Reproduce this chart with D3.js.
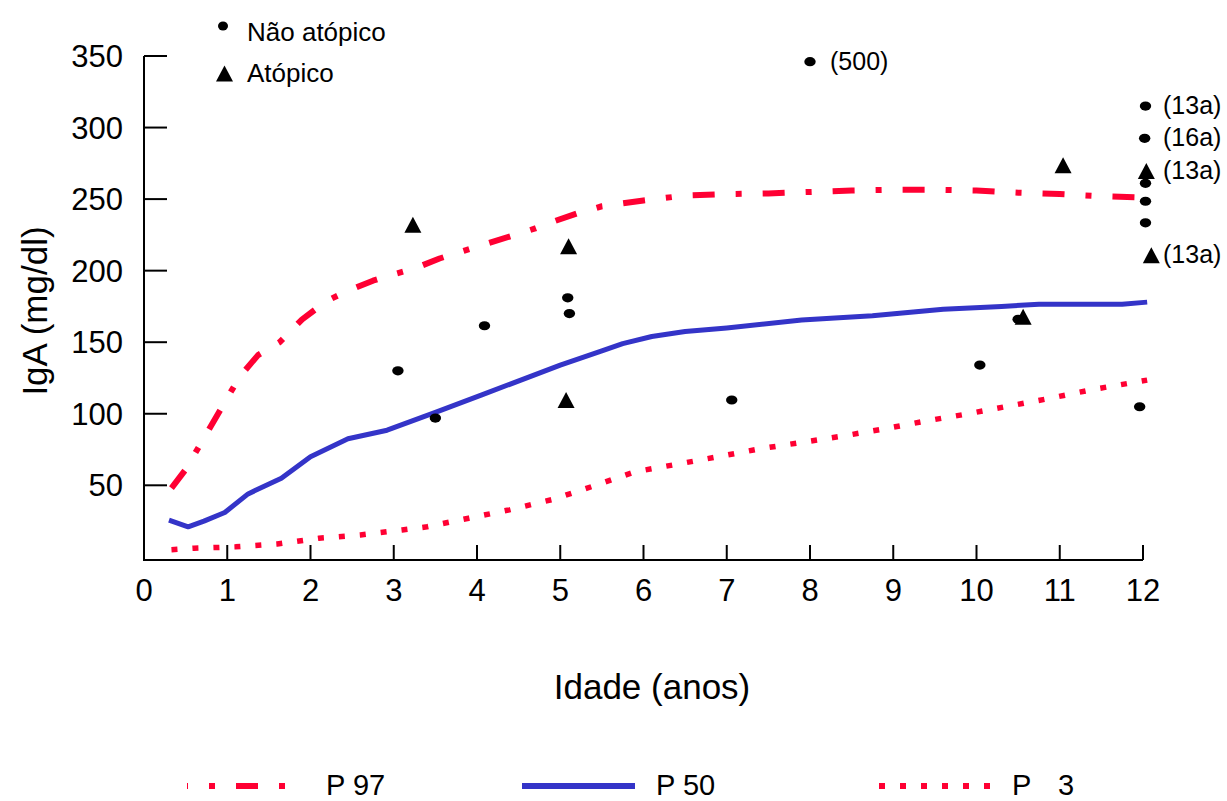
<!DOCTYPE html>
<html>
<head>
<meta charset="utf-8">
<script src="https://cdn.jsdelivr.net/npm/d3@7"></script>
<style>
  html, body { margin: 0; padding: 0; background: #fff; }
  text { font-family: "Liberation Sans", Arial, sans-serif; fill: #000; }
</style>
</head>
<body>
<div id="chart"></div>
<script>
// Percentil 97 (traço-ponto)
const p97Age = [0.33, 0.5, 0.67, 0.85, 1, 1.15, 1.37, 1.63, 1.9, 2.2, 2.45, 2.75, 3, 3.25, 3.55, 3.85, 4.1, 4.4, 4.7, 4.9, 5.2, 5.5, 5.75, 6, 6.5, 7, 7.5, 8, 8.5, 9, 9.5, 10, 10.5, 11, 11.5, 12.05];
const p97Iga = [48, 61, 78, 96, 111, 126, 141, 150, 166, 179, 186, 193, 197.5, 201.5, 208.5, 214, 218.5, 224, 229.5, 234, 240, 245, 247, 249, 252.5, 253.5, 254, 255, 256, 256.5, 256.5, 256, 254.5, 253.5, 252, 251];

// Percentil 50 (contínua)
const p50Age = [0.3, 0.53, 0.72, 0.97, 1.25, 1.65, 2, 2.45, 2.92, 3.5, 4.05, 5, 5.5, 5.75, 6.1, 6.5, 7, 7.9, 8.75, 9.6, 10.3, 10.75, 11.75, 12.05];
const p50Iga = [25.6, 21, 25, 31, 44, 55, 70, 82.5, 88.5, 101, 113, 134, 144, 149, 154, 157.5, 160, 165.5, 168.5, 173, 175, 176.5, 176.5, 178];

// Percentil 3 (pontilhada)
const p3Age = [0.33, 0.6, 1.1, 1.6, 2.1, 2.6, 3.1, 3.4, 3.9, 4.4, 4.9, 5.4, 5.9, 6.4, 6.9, 7.4, 7.9, 8.4, 8.9, 9.4, 9.9, 10.4, 10.9, 11.4, 11.9, 12.05];
const p3Iga = [5, 6, 7, 9, 13, 15.3, 18.8, 21, 27, 33, 40, 49.5, 59.5, 64.7, 70, 75.5, 80, 84.5, 89.5, 95, 100, 105.5, 111, 117, 122, 123.5];

// Pacientes
const naoAge = [3.05, 3.5, 4.09, 5.09, 5.11, 7.06, 8.0, 10.04, 10.5, 11.96, 12.03, 12.02, 12.03, 12.03, 12.03];
const naoIga = [130, 97, 161.5, 181, 170, 109.6, 346, 134, 166, 104.9, 315, 292.5, 261, 248.5, 233.4];
const atoAge = [3.23, 5.1, 5.07, 10.56, 11.04, 12.04, 12.1];
const atoIga = [232, 217, 109.6, 167.7, 273.7, 269.7, 210.8];

// Rótulos ao lado de alguns pontos
const labelSeries = ["nao", "nao", "nao", "ato", "ato"];
const labelIndex = [6, 10, 11, 5, 6];
const labelText = ["(500)", "(13a)", "(16a)", "(13a)", "(13a)"];

const xTicks = d3.range(0, 13);
const yTicks = [50, 100, 150, 200, 250, 300, 350];

const RED = "#ff0033";
const BLUE = "#3434c8";
const W = 1227, H = 801;

const svg = d3.select("#chart").append("svg")
  .attr("width", W).attr("height", H);
svg.append("rect").attr("width", W).attr("height", H).attr("fill", "#fff");

const x = d3.scaleLinear().domain([0, 12]).range([144, 1143]);
const y = d3.scaleLinear().domain([-2.2, 350]).range([560, 56]);
const axisY = y(-2.2);

// --- Eixos ---
const ax = svg.append("g").attr("stroke", "#000").attr("stroke-width", 2).attr("fill", "none");
ax.append("line").attr("x1", x(0)).attr("x2", x(12)).attr("y1", axisY).attr("y2", axisY);
ax.append("line").attr("x1", x(0)).attr("x2", x(0)).attr("y1", axisY + 1).attr("y2", y(350));
ax.selectAll(".xt").data(xTicks.slice(1)).join("line")
  .attr("x1", d => x(d)).attr("x2", d => x(d))
  .attr("y1", axisY).attr("y2", axisY - 15);
ax.selectAll(".yt").data(yTicks).join("line")
  .attr("x1", x(0)).attr("x2", x(0) + 23)
  .attr("y1", d => y(d)).attr("y2", d => y(d));

svg.selectAll(".xl").data(xTicks).join("text")
  .attr("x", d => x(d)).attr("y", axisY + 41)
  .attr("text-anchor", "middle").attr("font-size", 31)
  .text(d => d);
svg.selectAll(".yl").data(yTicks).join("text")
  .attr("x", x(0) - 21).attr("y", d => y(d) + 11)
  .attr("text-anchor", "end").attr("font-size", 31)
  .text(d => d);

svg.append("text")
  .attr("x", 652).attr("y", 699)
  .attr("text-anchor", "middle").attr("font-size", 35)
  .text("Idade (anos)");
svg.append("text")
  .attr("transform", "translate(47,311) rotate(-90)")
  .attr("text-anchor", "middle").attr("font-size", 35)
  .text("IgA (mg/dl)");

// --- Curvas de percentis ---
const line = d3.line().x(d => x(d[0])).y(d => y(d[1]));
const curves = [
  { age: p3Age, iga: p3Iga, color: RED, width: 5.5, dash: "6,15" },
  { age: p97Age, iga: p97Iga, color: RED, width: 6, dash: "22,21,6,21" },
  { age: p50Age, iga: p50Iga, color: BLUE, width: 5, dash: null }
];
curves.forEach(c => {
  svg.append("path")
    .datum(d3.zip(c.age, c.iga))
    .attr("d", line)
    .attr("fill", "none")
    .attr("stroke", c.color)
    .attr("stroke-width", c.width)
    .attr("stroke-linejoin", "round")
    .attr("stroke-dasharray", c.dash);
});

// --- Marcadores ---
const tri = (cx, cy) => `M${cx - 8.5},${cy + 8} L${cx + 8.5},${cy + 8} L${cx},${cy - 8} Z`;

svg.selectAll(".nao").data(d3.zip(naoAge, naoIga)).join("ellipse")
  .attr("cx", d => x(d[0])).attr("cy", d => y(d[1]))
  .attr("rx", 5.7).attr("ry", 4.6).attr("fill", "#000");
svg.selectAll(".ato").data(d3.zip(atoAge, atoIga)).join("path")
  .attr("d", d => tri(x(d[0]), y(d[1])))
  .attr("fill", "#000");

const series = { nao: [naoAge, naoIga], ato: [atoAge, atoIga] };
labelText.forEach((t, i) => {
  const s = series[labelSeries[i]];
  const px = x(s[0][labelIndex[i]]);
  const py = y(s[1][labelIndex[i]]);
  svg.append("text")
    .attr("x", Math.min(px + 20, x(12) + 20))
    .attr("y", py + 8)
    .attr("font-size", 25)
    .text(t);
});

// --- Legenda de símbolos (topo) ---
svg.append("ellipse").attr("cx", 223).attr("cy", 26).attr("rx", 5).attr("ry", 4.5).attr("fill", "#000");
svg.append("text").attr("x", 247).attr("y", 41).attr("font-size", 26).text("Não atópico");
svg.append("path").attr("d", tri(224.5, 73.5)).attr("fill", "#000");
svg.append("text").attr("x", 247).attr("y", 82).attr("font-size", 26).text("Atópico");

// --- Legenda das curvas (rodapé) ---
const legY = 786;
const legTextY = 795;
const legend = [
  { x1: 187, x2: 301, color: RED, width: 6, dash: "22,21,6,21", offset: 21, label: "P 97", tx: 326 },
  { x1: 522, x2: 635, color: BLUE, width: 6, dash: null, offset: 0, label: "P 50", tx: 656 },
  { x1: 879, x2: 992, color: RED, width: 6, dash: "6,15", offset: 0, label: "P", tx: 1012 }
];
legend.forEach(l => {
  svg.append("line")
    .attr("x1", l.x1).attr("x2", l.x2).attr("y1", legY).attr("y2", legY)
    .attr("stroke", l.color).attr("stroke-width", l.width)
    .attr("stroke-dasharray", l.dash)
    .attr("stroke-dashoffset", l.offset);
  svg.append("text").attr("x", l.tx).attr("y", legTextY).attr("font-size", 29).text(l.label);
});
svg.append("text").attr("x", 1058).attr("y", legTextY).attr("font-size", 29).text("3");
</script>
</body>
</html>
